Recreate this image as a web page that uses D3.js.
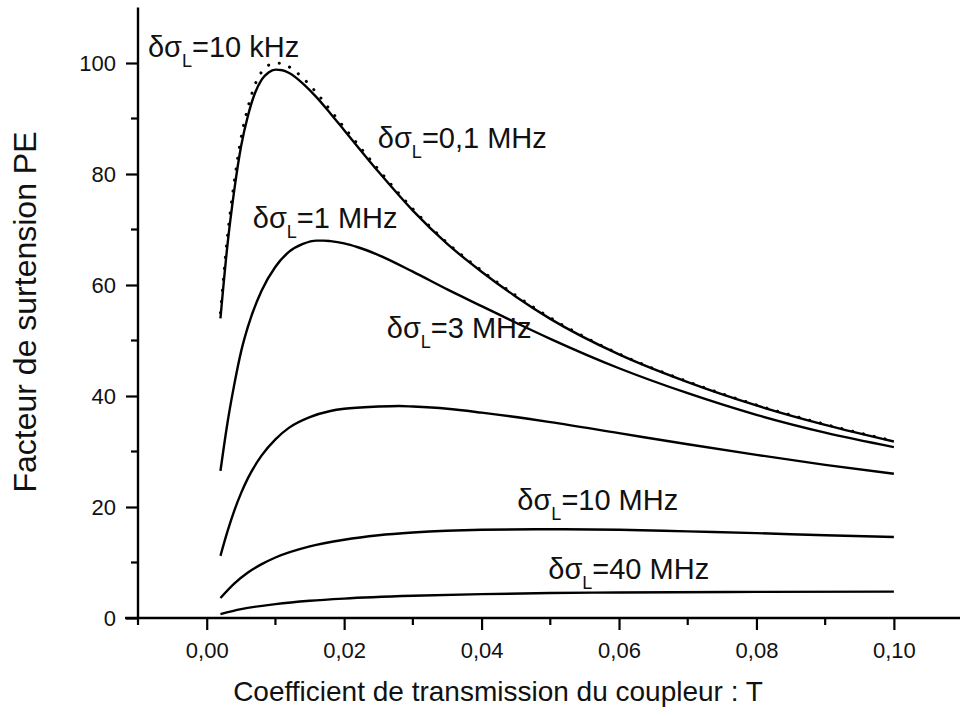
<!DOCTYPE html>
<html><head><meta charset="utf-8">
<script src="https://cdn.jsdelivr.net/npm/d3@7"></script>
<style>body{margin:0;background:#fff}svg{display:block}text{font-family:"Liberation Sans",Arial,sans-serif;fill:#111}</style>
</head><body>
<svg id="c" width="960" height="716"></svg>
<script>
// ---- data ----
const tA = [0.002,0.003,0.004,0.005,0.006,0.007,0.008,0.009,0.010,0.011,0.012,0.014,0.016,0.018,0.020,0.025,0.030,0.035,0.040,0.045,0.050,0.060,0.070,0.080,0.090,0.100];
const pe10k  = [55,68.5,78.5,86.5,92,96,98.4,99.6,100,99.9,99.3,97.3,94.6,91.5,88.4,80.8,73.7,67.6,62.6,58.1,54.1,47.6,42.6,38.4,34.9,31.9];
const pe01M  = [54,67,77,85,90.5,94.5,97,98.3,98.8,98.7,98.2,96.3,93.8,90.9,87.9,80.4,73.4,67.4,62.4,57.9,53.9,47.5,42.5,38.3,34.8,31.8];
const tB = [0.002,0.003,0.004,0.005,0.006,0.008,0.010,0.012,0.014,0.016,0.017,0.018,0.020,0.022,0.025,0.030,0.035,0.040,0.045,0.050,0.060,0.070,0.080,0.090,0.100];
const pe1M   = [26.5,35,42,48,52.5,59,63.3,66,67.4,68,68,67.9,67.5,66.8,65.4,62.4,59.2,56.2,53.2,50.3,45,40.5,36.6,33.4,30.8];
const tC = [0.002,0.003,0.004,0.005,0.006,0.008,0.010,0.012,0.015,0.018,0.020,0.025,0.028,0.030,0.035,0.040,0.050,0.060,0.070,0.080,0.090,0.100];
const pe3M   = [11.2,15.5,19.3,22.5,25.2,29.3,32.2,34.3,36.2,37.3,37.7,38.1,38.2,38.1,37.7,37,35.3,33.3,31.3,29.4,27.6,26];
const tD = [0.002,0.004,0.006,0.008,0.010,0.015,0.020,0.025,0.030,0.040,0.050,0.060,0.070,0.080,0.090,0.100];
const pe10M  = [3.6,6.2,8.2,9.7,10.9,12.9,14.1,14.9,15.4,15.9,16.0,15.9,15.6,15.3,14.9,14.6];
const tE = [0.002,0.005,0.010,0.015,0.020,0.030,0.040,0.050,0.060,0.080,0.100];
const pe40M  = [0.7,1.6,2.5,3.1,3.5,4.0,4.3,4.5,4.6,4.7,4.75];
const xTicks = [0,0.02,0.04,0.06,0.08,0.10];
const xTickLabels = ["0,00","0,02","0,04","0,06","0,08","0,10"];
const yTicks = [0,20,40,60,80,100];
const labels = [
  {main:"δσ", sub:"L", rest:"=10 kHz",  t:-0.00855, v:101.1},
  {main:"δσ", sub:"L", rest:"=0,1 MHz", t:0.0249, v:84.6},
  {main:"δσ", sub:"L", rest:"=1 MHz",   t:0.0067, v:70.3},
  {main:"δσ", sub:"L", rest:"=3 MHz",   t:0.0262, v:50.5},
  {main:"δσ", sub:"L", rest:"=10 MHz",  t:0.0452, v:19.5},
  {main:"δσ", sub:"L", rest:"=40 MHz",  t:0.0497, v:7.0}
];

const svg = d3.select("#c");
const x = d3.scaleLinear().domain([-0.01,0.11]).range([138,962.6]);
const y = d3.scaleLinear().domain([0,110]).range([618,7.5]);

const line = d3.line().x(d=>x(d[0])).y(d=>y(d[1])).curve(d3.curveMonotoneX);
const series = [
  {t:tA, v:pe10k, dash:"0.1,11"},
  {t:tA, v:pe01M, dash:null},
  {t:tB, v:pe1M, dash:null},
  {t:tC, v:pe3M, dash:null},
  {t:tD, v:pe10M, dash:null},
  {t:tE, v:pe40M, dash:null}
];
series.forEach(s=>{
  svg.append("path").datum(s.t.map((t,i)=>[t,s.v[i]]))
    .attr("d",line).attr("fill","none").attr("stroke","#000")
    .attr("stroke-width", s.dash?3:2.4)
    .attr("stroke-linecap", s.dash?"round":"butt")
    .attr("stroke-dasharray", s.dash);
});

// axes
const xAxis = d3.axisBottom(x).tickValues(xTicks).tickSize(12).tickPadding(10)
  .tickFormat((d,i)=>xTickLabels[i]);
const gx = svg.append("g").attr("transform","translate(0,618)").call(xAxis);
const xMinor = d3.range(-0.01,0.105,0.02);
gx.selectAll(".minor").data(xMinor).enter().append("line").attr("class","minor")
  .attr("x1",d=>x(d)).attr("x2",d=>x(d)).attr("y1",0).attr("y2",7).attr("stroke","#000").attr("stroke-width",2.2);
const yAxis = d3.axisLeft(y).tickValues(yTicks).tickSize(12).tickPadding(10);
const gy = svg.append("g").attr("transform","translate(138,0)").call(yAxis);
const yMinor = d3.range(10,110,20);
gy.selectAll(".minor").data(yMinor).enter().append("line").attr("class","minor")
  .attr("x1",0).attr("x2",-7).attr("y1",d=>y(d)).attr("y2",d=>y(d)).attr("stroke","#000").attr("stroke-width",2.2);
[gx,gy].forEach(g=>{
  g.select(".domain").attr("stroke","#000").attr("stroke-width",2.4);
  g.selectAll(".tick line").attr("stroke","#000").attr("stroke-width",2.2);
  g.selectAll("text").attr("font-size",22).attr("font-family","Liberation Sans, Arial, sans-serif").attr("fill","#111");
});
gx.selectAll(".tick text").attr("y",40).attr("dy",0);
gy.selectAll(".tick text").attr("dy","0.36em");
gx.select(".domain").attr("d","M125,0H962");
gy.select(".domain").attr("d","M0,618V7.5");

// axis titles
svg.append("text").attr("x",498).attr("y",701).attr("text-anchor","middle")
  .attr("font-size",28).text("Coefficient de transmission du coupleur : T");
svg.append("text").attr("transform","translate(36,312) rotate(-90)").attr("text-anchor","middle")
  .attr("font-size",32).text("Facteur de surtension PE");

// curve labels
labels.forEach(l=>{
  const t = svg.append("text").attr("x",x(l.t)).attr("y",y(l.v)).attr("font-size",29);
  t.append("tspan").text(l.main);
  t.append("tspan").attr("font-size",18).attr("dy",10).text(l.sub);
  t.append("tspan").attr("dy",-10).text(l.rest);
});
</script>
</body></html>
